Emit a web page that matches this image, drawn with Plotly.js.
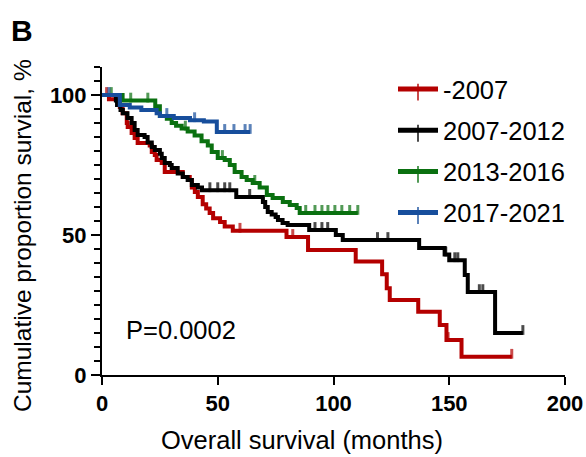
<!DOCTYPE html>
<html>
<head>
<meta charset="utf-8">
<script src="https://cdn.plot.ly/plotly-3.0.1.min.js"></script>
<style>html,body{margin:0;padding:0;background:#fff}#chart{width:586px;height:457px}</style>
</head>
<body>
<div id="chart"></div>
<script>
// ---- Data ----
const groupNames = ["-2007", "2007-2012", "2013-2016", "2017-2021"];
const groupColors = ["#B40000", "#000000", "#0A7010", "#174E9C"];

// -2007
const redTimes = [0, 3, 7.7, 8.9, 10.7, 11.1, 12.8, 14.1, 15.4, 20.6, 21.5, 22.8, 23.6, 25.8, 27.1, 34.9, 37.9, 38.8, 40.1, 41.4, 43.5, 45, 46.5, 48, 51, 53, 56.5, 79.7, 89, 109.6, 121, 123, 124.3, 136.6, 145.9, 148.8, 155.3];
const redSurv  = [100, 98.5, 95.7, 93.5, 90, 88.6, 86.4, 84.6, 82.9, 82, 79.6, 78.6, 76.8, 75.7, 72.5, 70.7, 69.6, 67, 65.4, 63.6, 61, 59.5, 57.9, 56, 54.6, 53, 51.5, 49.3, 44.6, 40.5, 36, 31, 26.8, 22.6, 17.9, 12.5, 6.5];
const redCensor = [2, 59.6, 82.4, 149.5, 177];

// 2007-2012
const blackTimes = [0, 6, 6.5, 8, 9, 11, 12.8, 14.1, 15.4, 18.4, 19.7, 21.5, 22.8, 25, 25.8, 27.1, 29.3, 30.1, 32.7, 34.9, 37, 38.8, 41.4, 43.2, 58, 69.5, 70.5, 71.6, 73.3, 75, 76, 78, 80.2, 89.5, 101, 104, 137, 148, 150, 156.7, 158, 169.8];
const blackSurv  = [100, 98, 96.4, 94.6, 93.5, 91.8, 90, 87.5, 85.7, 85, 83, 81.4, 80.4, 79, 77.5, 75.7, 75, 73.9, 72, 70.7, 69.6, 67.9, 67, 66, 63.6, 61.8, 60, 58.2, 57.3, 56.4, 55.4, 54.3, 53.6, 51.8, 50, 48.2, 45.4, 43, 41, 35.7, 29.6, 15];
const blackCensor = [46.6, 50, 53, 55.2, 63.8, 92, 95, 97.5, 119, 123.5, 148.5, 152.4, 153.7, 163, 164.5, 181.8];

// 2013-2016
const greenTimes = [0, 8.9, 23, 25, 28, 30.1, 32, 34.4, 37, 40, 43, 45.7, 47.4, 50, 53, 55.2, 57.3, 60.3, 62.5, 65.1, 68.1, 71.2, 73.7, 78.1, 81.1, 84.1, 85.4];
const greenSurv  = [100, 98, 96, 92.5, 91.5, 90, 89, 88, 87, 85.5, 83.5, 82, 79.6, 77.5, 76.8, 75, 72.5, 70.7, 69.6, 68.6, 67, 64.3, 63.2, 61.8, 60.7, 59.6, 57.9];
const greenCensor = [4, 12.4, 19.8, 36, 52, 66, 88, 92, 95, 97.6, 100.6, 103.6, 107, 110.5];

// 2017-2021
const blueTimes = [0, 7.7, 12, 17, 23.6, 25, 31, 38, 44, 49.6];
const blueSurv  = [100, 96.4, 95.5, 94.6, 93.5, 92.5, 91.8, 91, 90.5, 86.8];
const blueCensor = [3, 28, 40, 53, 57, 61.8, 64];

const groups = [
  [redTimes, redSurv, redCensor],
  [blackTimes, blackSurv, blackCensor],
  [greenTimes, greenSurv, greenCensor],
  [blueTimes, blueSurv, blueCensor]
];

// ---- Build Kaplan-Meier step traces ----
function survAt(times, surv, t) {
  let s = surv[0];
  for (let i = 0; i < times.length; i++) { if (times[i] <= t) s = surv[i]; }
  return s;
}
const traces = groups.map((g, k) => {
  const [times, surv, cens] = g;
  const pts = times.map((t, i) => ({x: t, y: surv[i], c: false}));
  cens.forEach(t => pts.push({x: t, y: survAt(times, surv, t), c: true}));
  pts.sort((a, b) => a.x - b.x || (a.c ? 1 : -1));
  return {
    type: 'scatter', mode: 'lines+markers', name: groupNames[k], legendgroup: 'g' + k,
    x: pts.map(p => p.x), y: pts.map(p => p.y),
    line: {shape: 'hv', color: groupColors[k], width: 4},
    marker: {symbol: 'line-ns', size: pts.map(p => p.c ? 7 : 0), color: groupColors[k],
             angle: 180, standoff: 3,
             line: {color: groupColors[k], width: 3}},
    cliponaxis: false
  };
});

// ---- Layout ----
const L = 102, R = 565, T = 67, B = 375;
const px = v => (v - L) / (R - L);
const py = v => (B - v) / (B - T);
const FONT = 'Arial, "Liberation Sans", sans-serif';

const layout = {
  width: 586, height: 457,
  margin: {l: L, r: 586 - R, t: T, b: 457 - B, pad: 0},
  paper_bgcolor: '#fff', plot_bgcolor: '#fff',
  showlegend: true,
  legend: {x: px(393), y: py(66), xanchor: 'left', yanchor: 'top',
           font: {family: FONT, size: 25.5, color: '#000'}, itemwidth: 40,
           tracegroupgap: 5,
           itemsizing: 'constant', bgcolor: 'rgba(0,0,0,0)'},
  xaxis: {range: [0, 200], tickvals: [0, 50, 100, 150, 200], ticks: 'outside', ticklen: 8, tickwidth: 2,
          showline: true, linewidth: 2, linecolor: '#000', tickcolor: '#000', showgrid: false, zeroline: false,
          tickfont: {family: FONT, size: 22, weight: 'bold', color: '#000'}},
  yaxis: {range: [0, 110], tickvals: [0, 50, 100], ticks: 'outside', ticklen: 9, tickwidth: 2,
          showline: true, linewidth: 2, linecolor: '#000', tickcolor: '#000', showgrid: false, zeroline: false,
          tickfont: {family: FONT, size: 22, weight: 'bold', color: '#000'},
          minor: {dtick: 5, ticks: 'outside', ticklen: 6, tickwidth: 2, tickcolor: '#000', showgrid: false}},
  annotations: [
    {text: 'B', xref: 'paper', yref: 'paper', x: px(9), y: py(12), xanchor: 'left', yanchor: 'top',
     showarrow: false, font: {family: FONT, size: 30, weight: 'bold', color: '#000'}},
    {text: 'Cumulative proportion survial, %', xref: 'paper', yref: 'paper', x: px(22), y: py(236),
     textangle: -90, showarrow: false, xanchor: 'center', yanchor: 'middle',
     font: {family: FONT, size: 24.5, color: '#000'}},
    {text: 'Overall survival (months)', xref: 'paper', yref: 'paper', x: px(302), y: py(440),
     showarrow: false, xanchor: 'center', yanchor: 'middle',
     font: {family: FONT, size: 25.5, color: '#000'}},
    {text: 'P=0.0002', xref: 'x', yref: 'y', x: 34, y: 16, showarrow: false, xanchor: 'center', yanchor: 'middle',
     font: {family: FONT, size: 25.5, color: '#000'}}
  ]
};

Plotly.newPlot('chart', traces, layout, {staticPlot: true, displayModeBar: false});
</script>
</body>
</html>
